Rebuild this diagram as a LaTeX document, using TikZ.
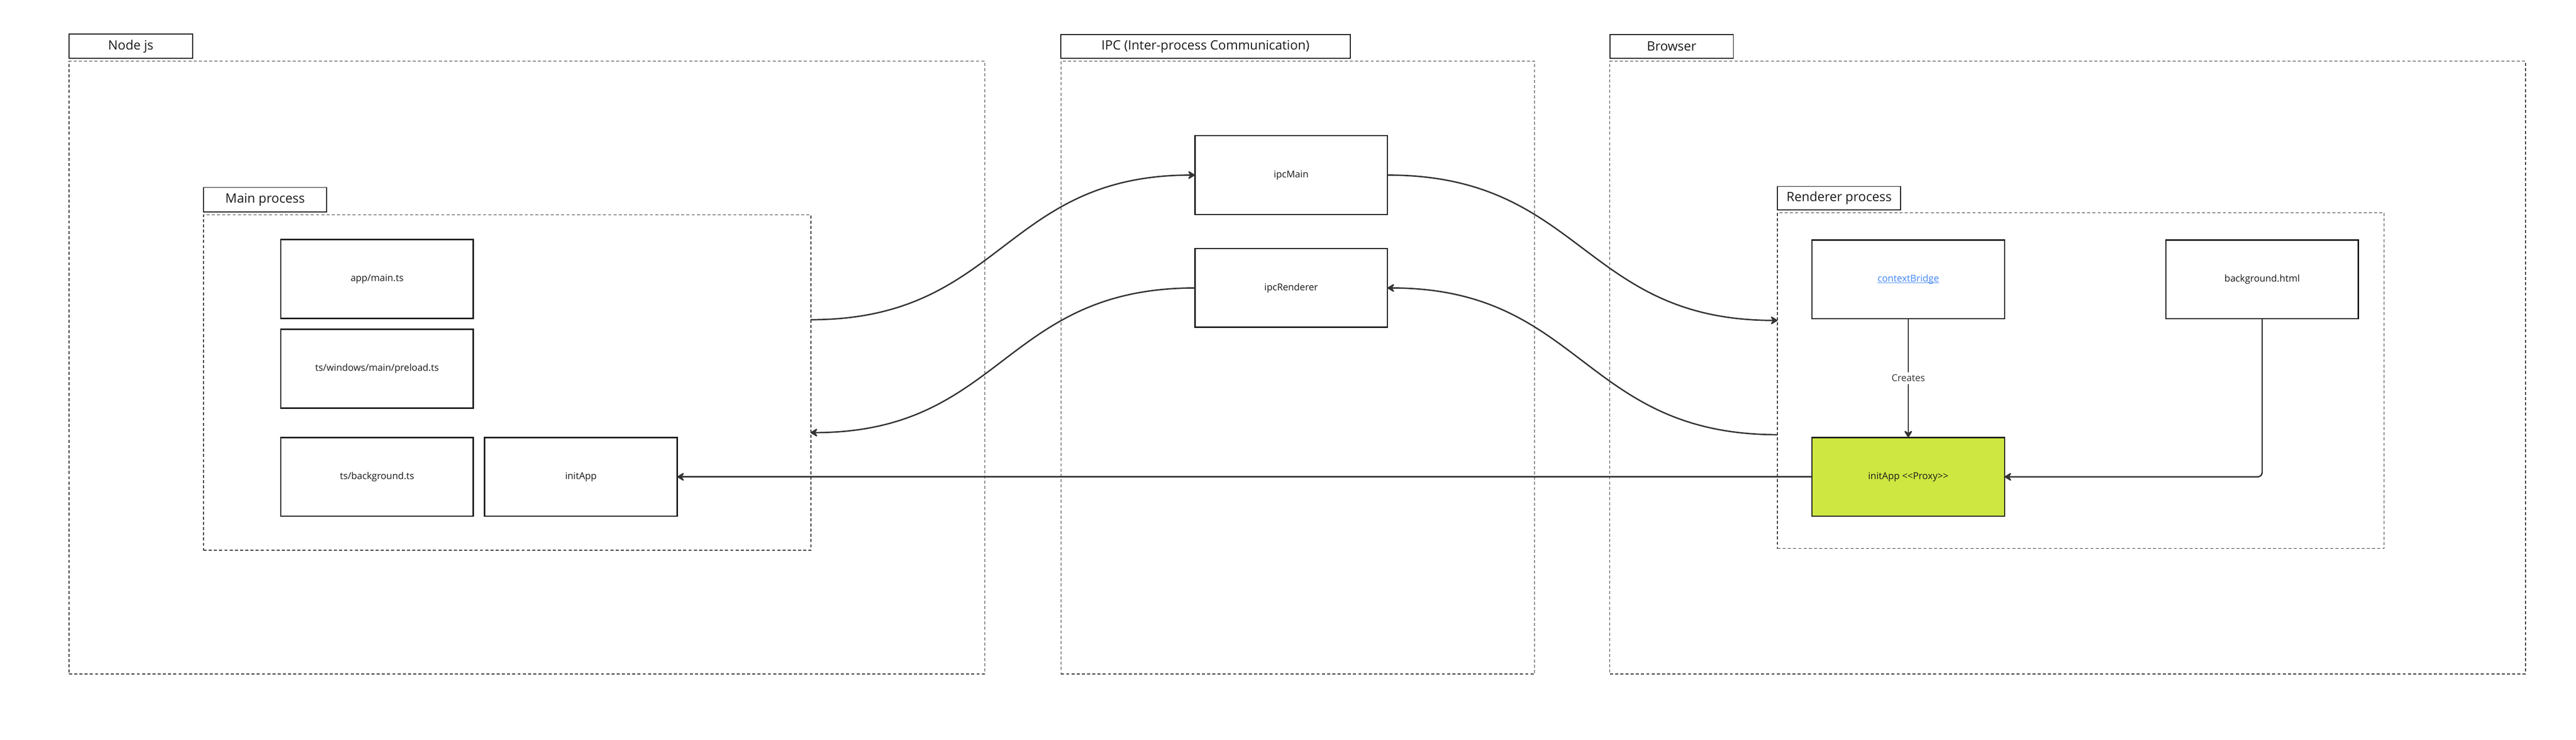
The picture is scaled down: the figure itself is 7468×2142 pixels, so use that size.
\documentclass[tikz,border=0pt]{standalone}
\usepackage{fontspec}
\setmainfont{Open Sans}
\usetikzlibrary{arrows.meta}
\definecolor{ink}{HTML}{1A1A1A}
\definecolor{wire}{HTML}{333333}
\definecolor{limefill}{HTML}{CEE741}
\definecolor{linkblue}{HTML}{4285F4}
\newcommand\linktext[1]{\setbox0\hbox{#1}\rlap{\rule[-1.0pt]{\wd0}{0.35pt}}\box0}
\tikzset{
  groupbox/.style={draw=wire, line width=0.55pt, dash pattern=on 2.5pt off 1.8pt, inner sep=0pt, outer sep=0pt, anchor=north west},
  grouplabel/.style={draw=ink, line width=0.75pt, inner sep=0pt, outer sep=0pt, anchor=north west, text=ink,
    font=\fontsize{10.6}{12}\selectfont},
  box/.style={draw=ink, line width=1.15pt, inner sep=0pt, outer sep=0pt, anchor=north west,
    minimum width=5.58cm, minimum height=2.28cm, text=ink, font=\fontsize{7.8}{9}\selectfont},
  conn/.style={draw=wire, line width=1.15pt, line join=round,
    -{Stealth[length=0.25cm, width=0.30cm, inset=0.1cm, round]}},
  edgelabel/.style={fill=white, text=wire, inner sep=2pt, font=\fontsize{7.8}{9}\selectfont}
}
\begin{document}
\begin{tikzpicture}[x=0.01cm, y=-0.01cm]
\useasboundingbox (0,0) rectangle (7468,2142);

% group containers
\node[groupbox, minimum width=26.53cm, minimum height=17.74cm] (nodejs) at (200,177) {};
\node[groupbox, minimum width=13.72cm, minimum height=17.74cm] (ipc) at (3076,177) {};
\node[groupbox, minimum width=26.53cm, minimum height=17.74cm] (browser) at (4667,177) {};
\node[groupbox, minimum width=17.60cm, minimum height=9.71cm] (mainproc) at (590,622) {};
\node[groupbox, minimum width=17.58cm, minimum height=9.72cm] (renderer) at (5153,616) {};

% group labels
\node[grouplabel, minimum width=3.58cm, minimum height=0.70cm] (lnodejs) at (200,99) {Node js};
\node[grouplabel, minimum width=8.39cm, minimum height=0.69cm] (lipc) at (3075,100) {IPC (Inter-process Communication)};
\node[grouplabel, minimum width=3.58cm, minimum height=0.69cm] (lbrowser) at (4667,100) {Browser};
\node[grouplabel, minimum width=3.57cm, minimum height=0.71cm] (lmain) at (590,543) {Main process};
\node[grouplabel, minimum width=3.57cm, minimum height=0.68cm] (lrenderer) at (5153,540) {Renderer process};

% boxes
\node[box] (appmain) at (814,694) {app/main.ts};
\node[box] (preload) at (814,954) {ts/windows/main/preload.ts};
\node[box] (bgts) at (814,1267) {ts/background.ts};
\node[box] (initapp) at (1405,1267) {initApp};
\node[box] (ipcmain) at (3464,393) {ipcMain};
\node[box] (ipcrenderer) at (3464,720) {ipcRenderer};
\node[box] (ctxbridge) at (5253,695) {\color{linkblue}\linktext{contextBridge}};
\node[box] (bghtml) at (6279,695) {background.html};
\node[box, fill=limefill] (proxy) at (5253,1267) {initApp <{}<Proxy>{}>};

% attachment points on the process containers
\coordinate (mpout) at (2350,926);
\coordinate (mpin) at (2350,1253);
\coordinate (rpin) at (5153,928);
\coordinate (rpout) at (5153,1259);

% connectors
\draw[conn] (mpout) .. controls +(557,0) and +(-557,0) .. (ipcmain.west);
\draw[conn] (ipcrenderer.west) .. controls +(-557,0) and +(557,0) .. (mpin);
\draw[conn] (ipcmain.east) .. controls +(565,0) and +(-565,0) .. (rpin);
\draw[conn] (rpout) .. controls +(-565,0) and +(565,0) .. (ipcrenderer.east);
\draw[conn] (ctxbridge.south) -- node[edgelabel] (creates) {Creates} (proxy.north);
\draw[conn, rounded corners=0.13cm] (bghtml.south) |- (proxy.east);
\draw[conn] (proxy.west) -- (initapp.east);
\end{tikzpicture}
\end{document}
